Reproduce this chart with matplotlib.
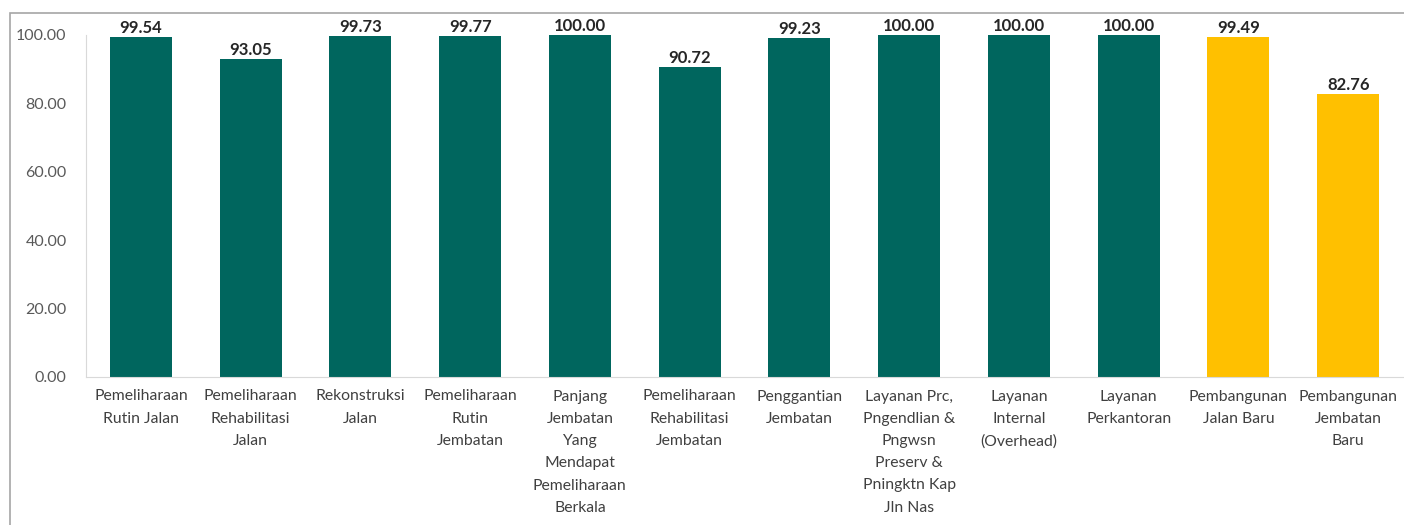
import matplotlib
matplotlib.use("Agg")
import matplotlib.pyplot as plt
from matplotlib.patches import Rectangle

categories = [
    "Pemeliharaan\nRutin Jalan",
    "Pemeliharaan\nRehabilitasi\nJalan",
    "Rekonstruksi\nJalan",
    "Pemeliharaan\nRutin\nJembatan",
    "Panjang\nJembatan\nYang\nMendapat\nPemeliharaan\nBerkala",
    "Pemeliharaan\nRehabilitasi\nJembatan",
    "Penggantian\nJembatan",
    "Layanan Prc,\nPngendlian &\nPngwsn\nPreserv &\nPningktn Kap\nJln Nas",
    "Layanan\nInternal\n(Overhead)",
    "Layanan\nPerkantoran",
    "Pembangunan\nJalan Baru",
    "Pembangunan\nJembatan\nBaru",
]
values = [99.54, 93.05, 99.73, 99.77, 100.00, 90.72, 99.23, 100.00, 100.00, 100.00, 99.49, 82.76]
colors = ["#00665E"] * 10 + ["#FFC000"] * 2
yticks = [0, 20, 40, 60, 80, 100]

plt.rcParams['font.family'] = ['Lato', 'DejaVu Sans']

fig = plt.figure(figsize=(14.04, 5.25), dpi=100)
ax = fig.add_axes([86/1404, 148/525, (1403-86)/1404, (377-35)/525])

x = list(range(len(values)))
bars = ax.bar(x, values, width=0.565, color=colors)
for xi, v in zip(x, values):
    ax.text(xi, v + 0.2, f"{v:.2f}", ha="center", va="bottom",
            fontsize=12, fontweight="bold", color="#262626")

ax.set_xlim(-0.5, len(values) - 0.5)
ax.set_ylim(0, 100)
ax.set_yticks(yticks)
ax.set_yticklabels([f"{t:.2f}" for t in yticks], fontsize=11.5, color="#595959")
ax.set_xticks(x)
ax.set_xticklabels(categories, fontsize=11.3, color="#404040", va="top")
for t in ax.get_xticklabels():
    t.set_linespacing(1.75)
ax.tick_params(axis="both", length=0)
ax.tick_params(axis="y", pad=14)
ax.tick_params(axis="x", pad=9)
for s in ["top", "right"]:
    ax.spines[s].set_visible(False)
ax.spines["left"].set_color("#D9D9D9")
ax.spines["bottom"].set_color("#D9D9D9")

# outer chart frame
fig.patches.append(Rectangle((10/1404, -0.1), 1.2, (525-13)/525 + 0.1,
                             transform=fig.transFigure, fill=False,
                             edgecolor="#A6A6A6", linewidth=1.2))

fig.savefig("out.png", dpi=100)
